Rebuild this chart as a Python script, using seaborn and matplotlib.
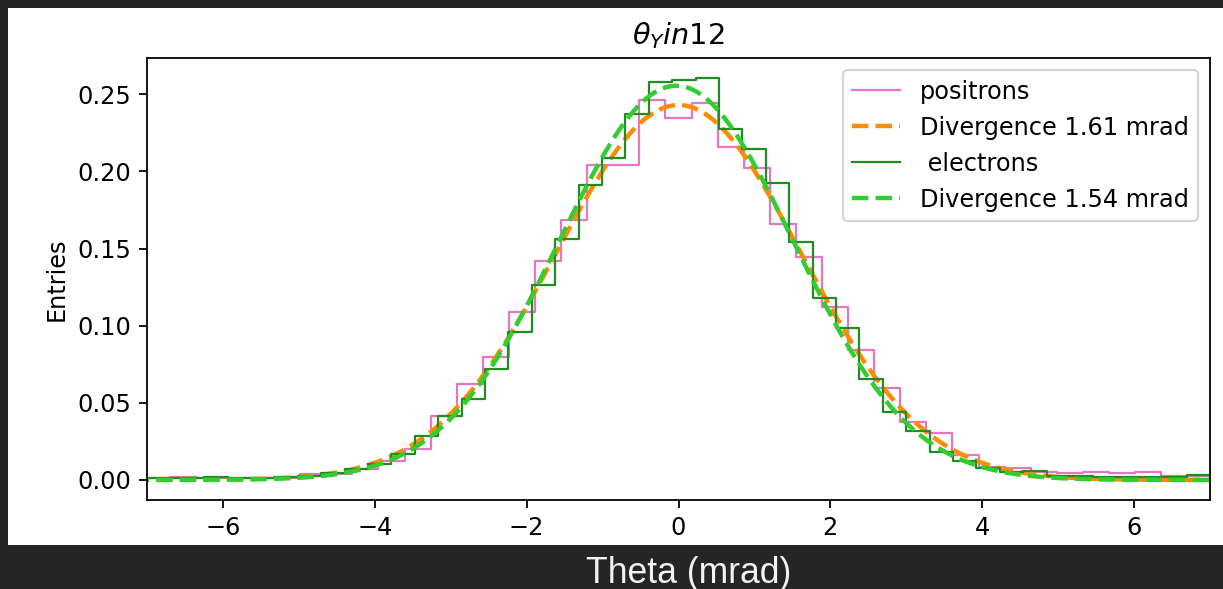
import numpy as np
import pandas as pd
import matplotlib
matplotlib.use("Agg")
import matplotlib.pyplot as plt
from matplotlib.patches import Rectangle
import seaborn as sns

# ---------------- DATA ----------------
# positron histogram (normalised), 41 bins
pos_lo, pos_width = -7.044, 0.3436
pos_heights = [0.0013, 0.0016, 0.0013, 0.0015, 0.0013, 0.0015, 0.0039, 0.0036,
               0.0068, 0.0120, 0.0201, 0.0412, 0.0622, 0.0795, 0.1086, 0.1420,
               0.1686, 0.2040, 0.2040, 0.2463, 0.2349, 0.2446, 0.2159, 0.2019,
               0.1658, 0.1442, 0.1118, 0.0842, 0.0596, 0.0378, 0.0306, 0.0164,
               0.0082, 0.0076, 0.0050, 0.0043, 0.0054, 0.0043, 0.0050, 0.0028,
               0.0028]

# electron histogram (normalised), 46 bins
ele_lo, ele_width = -7.172, 0.3082
ele_heights = [0.0012, 0.0015, 0.0012, 0.0018, 0.0015, 0.0014, 0.0020, 0.0028,
               0.0045, 0.0068, 0.0104, 0.0166, 0.0287, 0.0417, 0.0525, 0.0719,
               0.0961, 0.1263, 0.1561, 0.1911, 0.2090, 0.2370, 0.2582, 0.2591,
               0.2604, 0.2273, 0.2148, 0.1924, 0.1543, 0.1180, 0.0984, 0.0654,
               0.0438, 0.0315, 0.0182, 0.0123, 0.0076, 0.0054, 0.0056, 0.0028,
               0.0025, 0.0022, 0.0020, 0.0018, 0.0022, 0.0034]

# gaussian fits: amplitude, mean, sigma (mrad)
fit_amp = [0.2430, 0.2555]
fit_mu = [0.0, -0.03]
fit_sigma = [1.61, 1.54]

labels = ['positrons', 'Divergence 1.61 mrad', ' electrons', 'Divergence 1.54 mrad']
colors = ['#e377c2', 'darkorange', 'forestgreen', 'limegreen']

# ---------------- PLOT ----------------
plt.rcParams['font.size'] = 10.8

DPI = 160
fig = plt.figure(figsize=(1223 / DPI, 589 / DPI), dpi=DPI, facecolor='#252525')
fig.patches.append(Rectangle((8 / 1223, 1 - 545 / 589), 1, 537 / 589,
                             transform=fig.transFigure, facecolor='white',
                             edgecolor='none', zorder=-10))
ax = fig.add_axes([147 / 1223, 1 - 500 / 589, 1063 / 1223, 442 / 589])

pos_edges = [float(v) for v in pos_lo + pos_width * np.arange(len(pos_heights) + 1)]
ele_edges = [float(v) for v in ele_lo + ele_width * np.arange(len(ele_heights) + 1)]
pos_df = pd.DataFrame({'theta': (np.array(pos_edges[:-1]) + np.array(pos_edges[1:])) / 2,
                       'w': pos_heights})
ele_df = pd.DataFrame({'theta': (np.array(ele_edges[:-1]) + np.array(ele_edges[1:])) / 2,
                       'w': ele_heights})

xs = np.linspace(-7.5, 7.5, 400)
fits = [a * np.exp(-(xs - m) ** 2 / (2 * s ** 2)) for a, m, s in zip(fit_amp, fit_mu, fit_sigma)]

sns.histplot(data=pos_df, x='theta', weights='w', bins=pos_edges, element='step',
             fill=False, color=colors[0], linewidth=1.0, label=labels[0], ax=ax)
sns.lineplot(x=xs, y=fits[0], color=colors[1], linestyle='--', linewidth=2.0,
             label=labels[1], ax=ax)
sns.histplot(data=ele_df, x='theta', weights='w', bins=ele_edges, element='step',
             fill=False, color=colors[2], linewidth=1.0, label=labels[2], ax=ax)
sns.lineplot(x=xs, y=fits[1], color=colors[3], linestyle='--', linewidth=2.0,
             label=labels[3], ax=ax)

ax.set_xlim(-7, 7)
ax.set_ylim(-0.013, 0.2735)
ax.set_title(r'$\theta_Y in12$')
ax.set_ylabel('Entries')
ax.set_xlabel('')
ax.legend(loc='upper right')

fig.text(0.563, 0.027, 'Theta (mrad)', color='#f2f2f2', fontsize=16,
         family=['Liberation Sans', 'DejaVu Sans'], ha='center', va='center')

fig.savefig('out.png', dpi=DPI, facecolor=fig.get_facecolor())
